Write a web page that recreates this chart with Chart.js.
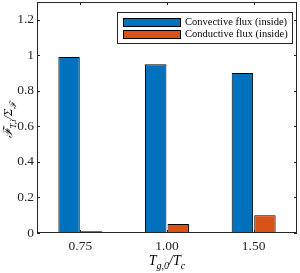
<!DOCTYPE html>
<html>
<head>
<meta charset="utf-8">
<script src="https://cdn.jsdelivr.net/npm/chart.js@4.4.1/dist/chart.umd.min.js"></script>
<style>
  html, body { margin: 0; padding: 0; background: #fff; }
  #wrap { width: 300px; height: 273px; }
</style>
</head>
<body>
<div id="wrap"><canvas id="fluxChart" width="300" height="273"></canvas></div>
<script>
// categories (T_g0 / T_c)
var categorias = ['0.75', '1.00', '1.50'];
// flux fractions
var convectivo = [0.99, 0.95, 0.90];
var conductivo = [0.01, 0.05, 0.10];
var nombresSeries = ['Convective flux (inside)', 'Conductive flux (inside)'];
var yTicks = [0, 0.2, 0.4, 0.6, 0.8, 1, 1.2];

var azul = '#0072BD';
var naranja = '#D95319';
var ejeColor = '#262626';
var serif = '"Liberation Serif", "DejaVu Serif", serif';

// draw a math-like string made of pieces [text, isSub], centred on x
function textoMath(ctx, piezas, x, y, size) {
    var total = 0;
    piezas.forEach(function (p) {
        ctx.font = 'italic ' + (p[1] ? size * 0.72 : size) + 'px ' + serif;
        total += ctx.measureText(p[0]).width;
    });
    var cx = x - total / 2;
    piezas.forEach(function (p) {
        ctx.font = 'italic ' + (p[1] ? size * 0.72 : size) + 'px ' + serif;
        ctx.fillText(p[0], cx, p[1] ? y + size * 0.28 : y);
        cx += ctx.measureText(p[0]).width;
    });
}

var marcoPlugin = {
    id: 'marco',
    afterDraw: function (chart) {
        var ctx = chart.ctx;
        var a = chart.chartArea;
        var ys = chart.scales.y, xs = chart.scales.x;
        ctx.save();
        ctx.strokeStyle = ejeColor;
        ctx.lineWidth = 1;
        ctx.strokeRect(Math.round(a.left) + 0.5, Math.round(a.top) + 0.5,
            Math.round(a.right - a.left) - 1, Math.round(a.bottom - a.top) - 1);
        ctx.beginPath();
        yTicks.forEach(function (v) {
            var py = Math.round(ys.getPixelForValue(v)) + 0.5;
            ctx.moveTo(a.left, py); ctx.lineTo(a.left + 3, py);
            ctx.moveTo(a.right, py); ctx.lineTo(a.right - 3, py);
        });
        categorias.forEach(function (c, i) {
            var px = Math.round(xs.getPixelForValue(i)) + 0.5;
            ctx.moveTo(px, a.bottom); ctx.lineTo(px, a.bottom - 3);
            ctx.moveTo(px, a.top); ctx.lineTo(px, a.top + 3);
        });
        ctx.stroke();

        // legend inside the axes
        var lx = 117, ly = 12, lw = 175, lh = 31;
        ctx.fillStyle = '#fff';
        ctx.fillRect(lx, ly, lw, lh);
        ctx.strokeStyle = ejeColor;
        ctx.strokeRect(lx + 0.5, ly + 0.5, lw, lh);
        [azul, naranja].forEach(function (col, i) {
            var sy = ly + 6 + i * 12;
            ctx.fillStyle = col;
            ctx.fillRect(123, sy, 57, 8);
            ctx.strokeStyle = '#000';
            ctx.strokeRect(123.5, sy + 0.5, 57, 8);
            ctx.fillStyle = '#000';
            ctx.font = '10.5px ' + serif;
            ctx.textBaseline = 'middle';
            ctx.textAlign = 'left';
            ctx.fillText(nombresSeries[i], 185, sy + 4.5);
        });
        ctx.restore();

        // axis titles
        ctx.save();
        ctx.fillStyle = '#000';
        ctx.textBaseline = 'alphabetic';
        ctx.textAlign = 'left';
        textoMath(ctx, [['T', false], ['g,0', true], ['/T', false], ['c', true]], 167, 265, 14);
        ctx.restore();

        ctx.save();
        ctx.fillStyle = '#000';
        ctx.textBaseline = 'alphabetic';
        ctx.textAlign = 'left';
        ctx.setTransform(0, -1, 1, 0, 12, 120);
        textoMath(ctx, [['\u2131', false], ['T,i', true], ['/\u03A3', false], ['\u2131', true]], 0, 0, 12.5);
        ctx.restore();
    }
};

var fluxConfig = {
    type: 'bar',
    data: {
        labels: categorias,
        datasets: [{
            label: nombresSeries[0],
            backgroundColor: azul,
            borderColor: '#000',
            borderWidth: 1,
            data: convectivo
        }, {
            label: nombresSeries[1],
            backgroundColor: naranja,
            borderColor: '#000',
            borderWidth: 1,
            data: conductivo
        }]
    },
    options: {
        responsive: false,
        animation: false,
        categoryPercentage: 0.52,
        barPercentage: 0.95,
        layout: { padding: { top: 2, right: 3, left: 0, bottom: 0 } },
        plugins: { legend: { display: false }, tooltip: { enabled: false } },
        scales: {
            x: {
                grid: { display: false, drawTicks: false },
                border: { display: false },
                ticks: { color: '#262626', font: { family: serif, size: 13.5 }, padding: 5 },
                afterFit: function (s) { s.height = 40; s.paddingLeft = 0; s.paddingRight = 0; }
            },
            y: {
                min: 0,
                max: 1.3,
                grid: { display: false, drawTicks: false },
                border: { display: false },
                afterBuildTicks: function (s) { s.ticks = yTicks.map(function (v) { return { value: v }; }); },
                ticks: {
                    color: '#262626',
                    font: { family: serif, size: 13.5 },
                    padding: 3,
                    callback: function (v) { return String(+v.toFixed(1)); }
                },
                afterFit: function (s) { s.width = 37; s.paddingTop = 0; s.paddingBottom = 0; }
            }
        }
    },
    plugins: [marcoPlugin]
};

var ctxFlux = document.getElementById('fluxChart').getContext('2d');
var fluxChart = new Chart(ctxFlux, fluxConfig);
</script>
</body>
</html>
